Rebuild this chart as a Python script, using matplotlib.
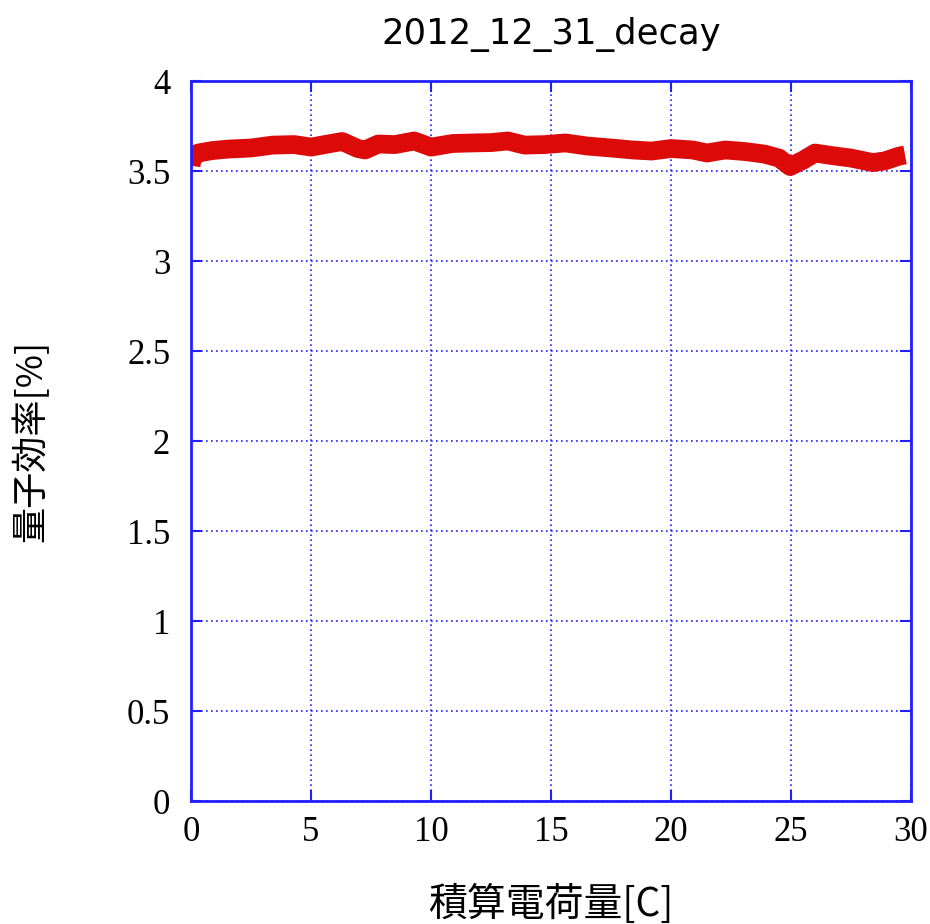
"""Quantum efficiency decay plot against integrated charge."""
import matplotlib
matplotlib.use('Agg')
import matplotlib.pyplot as plt

# Integrated charge [C] and quantum efficiency [%] along the run
charge = [0.0, 0.05, 0.3, 0.9, 1.55, 2.5, 3.4, 4.3, 5.0, 5.7, 6.3, 6.95, 7.25,
          7.8, 8.5, 9.3, 10.0, 10.9, 11.7, 12.5, 13.2, 13.9, 14.75, 15.6, 16.5,
          17.5, 18.4, 19.2, 20.0, 20.9, 21.5, 22.25, 23.1, 23.9, 24.5, 24.96,
          25.5, 26.0, 26.7, 27.5, 28.4, 28.9, 29.5, 29.75]
efficiency = [3.53, 3.57, 3.60, 3.614, 3.622, 3.628, 3.644, 3.647, 3.633, 3.65,
              3.664, 3.625, 3.617, 3.65, 3.647, 3.667, 3.633, 3.653, 3.656,
              3.658, 3.667, 3.644, 3.647, 3.656, 3.639, 3.628, 3.617, 3.611,
              3.625, 3.617, 3.60, 3.617, 3.608, 3.594, 3.572, 3.525, 3.56,
              3.60, 3.586, 3.572, 3.547, 3.556, 3.583, 3.589]

x_ticks = [0, 5, 10, 15, 20, 25, 30]
y_ticks = [0, 0.5, 1, 1.5, 2, 2.5, 3, 3.5, 4]
y_tick_labels = ['0', '0.5', '1', '1.5', '2', '2.5', '3', '3.5', '4']

BLUE = '#2020ff'
RED = '#dd0a0a'
CJK = ['Noto Sans CJK JP', 'DejaVu Sans']

fig = plt.figure(figsize=(9.3, 9.24), dpi=100)
ax = fig.add_axes([0.2054, 0.1331, 0.7742, 0.7792])

ax.plot(charge, efficiency, color=RED, linewidth=13.5, solid_capstyle='butt',
        solid_joinstyle='round')

ax.set_xlim(0, 30)
ax.set_ylim(0, 4)
ax.set_xticks(x_ticks)
ax.set_yticks(y_ticks)
ax.set_yticklabels(y_tick_labels)

# Grid and frame
ax.grid(True, color=BLUE, linestyle=(0, (1, 2)), linewidth=1.2)
ax.set_axisbelow(True)
for spine in ax.spines.values():
    spine.set_color(BLUE)
    spine.set_linewidth(2)
ax.tick_params(direction='in', length=8, width=1.5, color=BLUE,
               top=True, right=True, labelsize=25)
ax.tick_params(axis='x', pad=11)
ax.tick_params(axis='y', pad=15)
for label in ax.get_xticklabels() + ax.get_yticklabels():
    label.set_family('Liberation Serif')

ax.set_title('2012_12_31_decay', fontsize=25.5, family='DejaVu Sans', pad=27)
ax.set_xlabel('積算電荷量[C]', fontsize=28, family=CJK)
ax.set_ylabel('量子効率[%]', fontsize=26, family=CJK)
ax.xaxis.set_label_coords(0.5, -0.117)
ax.yaxis.set_label_coords(-0.196, 0.5)

plt.savefig('out.png', dpi=100)
plt.close(fig)
